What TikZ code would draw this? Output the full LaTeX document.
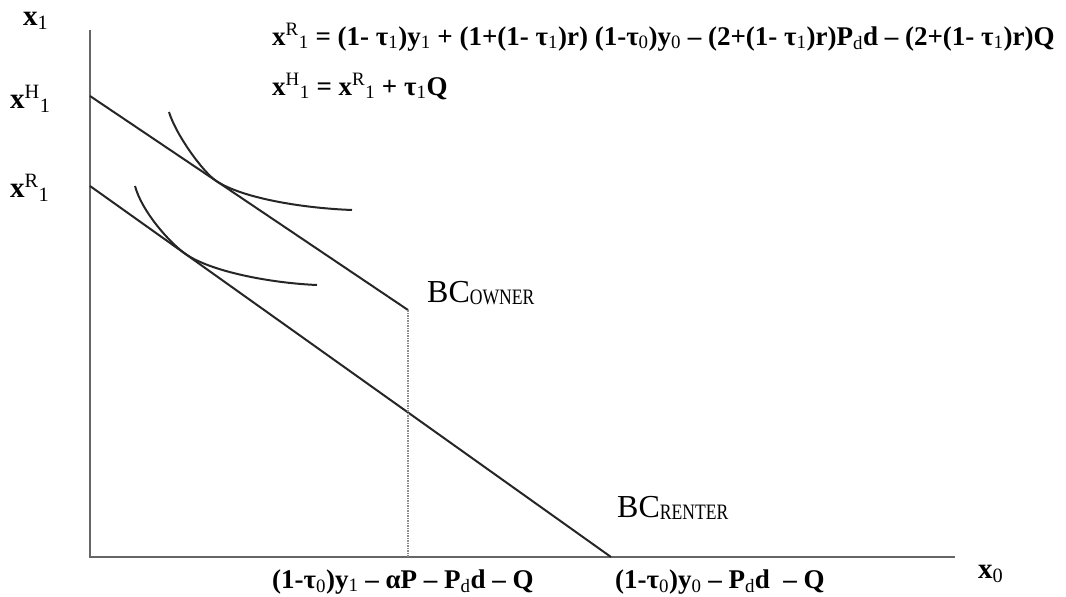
\documentclass[tikz,border=0pt]{standalone}
\usepackage{fontspec}
\usepackage{graphicx}
\setmainfont{Liberation Serif}
\newcommand{\sbx}[1]{\textsubscript{\mdseries #1}}
\newcommand{\spx}[1]{\textsuperscript{\mdseries #1}}
\begin{document}
\begin{tikzpicture}[x=1pt,y=-1pt,
  axis/.style={draw=black!60, line width=2.4pt},
  bcline/.style={draw=black!85, line width=2pt},
  indiff/.style={draw=black!85, line width=2pt},
  dropline/.style={draw=black!45, line width=2.4pt, dash pattern=on 1.6pt off 0.9pt},
  eq/.style={font=\fontsize{27}{32}\selectfont\bfseries, anchor=base west, inner sep=0pt},
  axlab/.style={font=\fontsize{29}{34}\selectfont\bfseries, anchor=base west, inner sep=0pt},
  bc/.style={font=\fontsize{32}{38}\selectfont, anchor=base west, inner sep=0pt}
]
\useasboundingbox (0,0) rectangle (1066,597);
% coordinates
\coordinate (O) at (90,557);
\coordinate (ytop) at (90,30);
\coordinate (xend) at (955,557);
\coordinate (H) at (90,96);
\coordinate (Hend) at (408,310);
\coordinate (R) at (90,186);
\coordinate (Rend) at (611,557);
\coordinate (D) at (408,557);
% axes
\draw[axis] (ytop) -- (O) -- (xend);
% budget lines
\draw[bcline] (H) -- (Hend);
\draw[bcline] (R) -- (Rend);
\draw[dropline] (Hend) -- (D);
% indifference curves
\draw[indiff] (169,112) .. controls (176,135) and (203,172) .. (216,180.8)
  .. controls (241,197.6) and (300,208) .. (352,210);
\draw[indiff] (135,186) .. controls (142,212) and (170,242.9) .. (185,253.6)
  .. controls (210,271.4) and (270,283) .. (317,285);
% labels
\node[axlab] (lx1) at (23,25) {x\sbx{1}};
\node[axlab] (lxH) at (10,108) {x\spx{H}\sbx{1}};
\node[axlab] (lxR) at (10,197) {x\spx{R}\sbx{1}};
\node[axlab] (lx0) at (978,578) {x\sbx{0}};
\node[eq] (eq1) at (272,45) {x\spx{R}\sbx{1} = (1- τ\sbx{1})y\sbx{1} + (1+(1- τ\sbx{1})r) (1-τ\sbx{0})y\sbx{0} – (2+(1- τ\sbx{1})r)P\sbx{d}d – (2+(1- τ\sbx{1})r)Q};
\node[eq] (eq2) at (272,95) {x\spx{H}\sbx{1} = x\spx{R}\sbx{1} + τ\sbx{1}Q};
\node[eq] (b1) at (272,588) {(1-τ\sbx{0})y\sbx{1} – αP – P\sbx{d}d – Q};
\node[eq] (b2) at (615,588) {(1-τ\sbx{0})y\sbx{0} – P\sbx{d}d \ – Q};
\node[bc] (bco) at (427,302) {BC\raisebox{-2pt}{\scalebox{0.8}[1]{\fontsize{22}{26}\selectfont OWNER}}};
\node[bc] (bcr) at (617,517) {BC\raisebox{-2pt}{\scalebox{0.8}[1]{\fontsize{22}{26}\selectfont RENTER}}};
\end{tikzpicture}
\end{document}
